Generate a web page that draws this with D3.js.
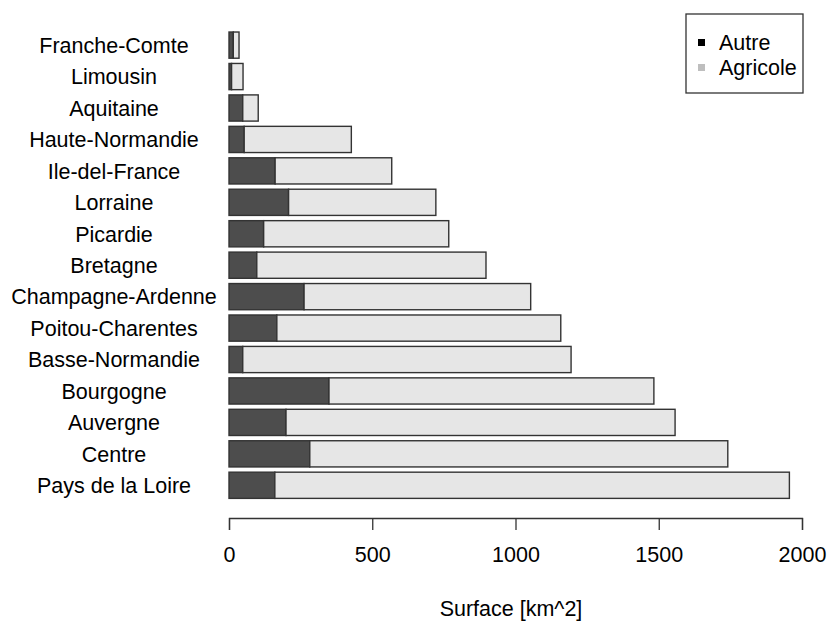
<!DOCTYPE html>
<html>
<head>
<meta charset="utf-8">
<script src="https://cdn.jsdelivr.net/npm/d3@7"></script>
<style>
  body { margin: 0; background: #fff; }
  text { font-family: "Liberation Sans", Arial, sans-serif; fill: #000; }
</style>
</head>
<body>
<div id="chart"></div>
<script>
// data, top to bottom as drawn
var regions = ["Franche-Comte", "Limousin", "Aquitaine", "Haute-Normandie", "Ile-del-France",
    "Lorraine", "Picardie", "Bretagne", "Champagne-Ardenne", "Poitou-Charentes",
    "Basse-Normandie", "Bourgogne", "Auvergne", "Centre", "Pays de la Loire"];
var autre    = [15, 9, 48, 53, 161, 208, 121, 97, 262, 167, 48, 349, 199, 282, 160];
var agricole = [20, 40, 54, 374, 407, 514, 646, 800, 791, 991, 1146, 1134, 1358, 1459, 1796];
var series_names = ["Autre", "Agricole"];
var x_ticks = [0, 500, 1000, 1500, 2000];

var chart_width = 829;
var chart_height = 621;

var rows = regions.map(function(r, i) {
    return { region: r, Autre: autre[i], Agricole: agricole[i] };
});

var stack = d3.stack().keys(series_names)(rows);

var x = d3.scaleLinear()
    .domain([0, 2000])
    .range([229, 802]);

var y = d3.scaleBand()
    .domain(regions)
    .range([29.4, 501])
    .paddingInner(1 / 6)
    .paddingOuter(1 / 12);

var fills = { Autre: "#4d4d4d", Agricole: "#e6e6e6" };

var svg = d3.select("#chart")
    .append("svg")
    .attr("width", chart_width)
    .attr("height", chart_height);

// bars
svg.selectAll("g.layer")
    .data(stack)
    .enter()
    .append("g")
    .attr("class", "layer")
    .attr("fill", function(d) { return fills[d.key]; })
    .selectAll("rect")
    .data(function(d) { return d; })
    .enter()
    .append("rect")
    .attr("x", function(d) { return x(d[0]); })
    .attr("y", function(d) { return y(d.data.region); })
    .attr("width", function(d) { return x(d[1]) - x(d[0]); })
    .attr("height", y.bandwidth())
    .attr("stroke", "#333")
    .attr("stroke-width", 1.4);

// region names, centered like R does it here
svg.selectAll("text.name")
    .data(regions)
    .enter()
    .append("text")
    .attr("class", "name")
    .attr("x", 114)
    .attr("y", function(d) { return y(d) + y.bandwidth() / 2; })
    .attr("dy", "0.36em")
    .attr("text-anchor", "middle")
    .style("font-size", "21.5px")
    .text(function(d) { return d; });

// x axis
var x_axis = d3.axisBottom(x)
    .tickValues(x_ticks)
    .tickFormat(d3.format("d"))
    .tickSizeInner(12)
    .tickSizeOuter(12)
    .tickPadding(17);

var ax = svg.append("g")
    .attr("transform", "translate(0,518)")
    .call(x_axis);

ax.select(".domain").attr("stroke", "#333").attr("stroke-width", 1.3);
ax.selectAll(".tick line").attr("stroke", "#333").attr("stroke-width", 1.3);
ax.selectAll(".tick text")
    .style("font-size", "21.5px")
    .style("font-family", "'Liberation Sans', Arial, sans-serif")
    .attr("fill", "#000");

svg.append("text")
    .attr("x", 511)
    .attr("y", 616)
    .attr("text-anchor", "middle")
    .style("font-size", "21.5px")
    .text("Surface [km^2]");

// legend
var legend = svg.append("g");
legend.append("rect")
    .attr("x", 686)
    .attr("y", 14)
    .attr("width", 117)
    .attr("height", 79)
    .attr("fill", "#fff")
    .attr("stroke", "#333")
    .attr("stroke-width", 1.3);

var legend_cols = { Autre: "#000", Agricole: "#bebebe" };
legend.selectAll("g.item")
    .data(series_names)
    .enter()
    .append("g")
    .attr("class", "item")
    .each(function(d, i) {
        var g = d3.select(this);
        var yy = 42 + i * 25;
        g.append("rect")
            .attr("x", 698)
            .attr("y", yy - 3)
            .attr("width", 7)
            .attr("height", 7)
            .attr("fill", legend_cols[d]);
        g.append("text")
            .attr("x", 719)
            .attr("y", yy)
            .attr("dy", "0.36em")
            .style("font-size", "21.5px")
            .text(d);
    });
</script>
</body>
</html>
